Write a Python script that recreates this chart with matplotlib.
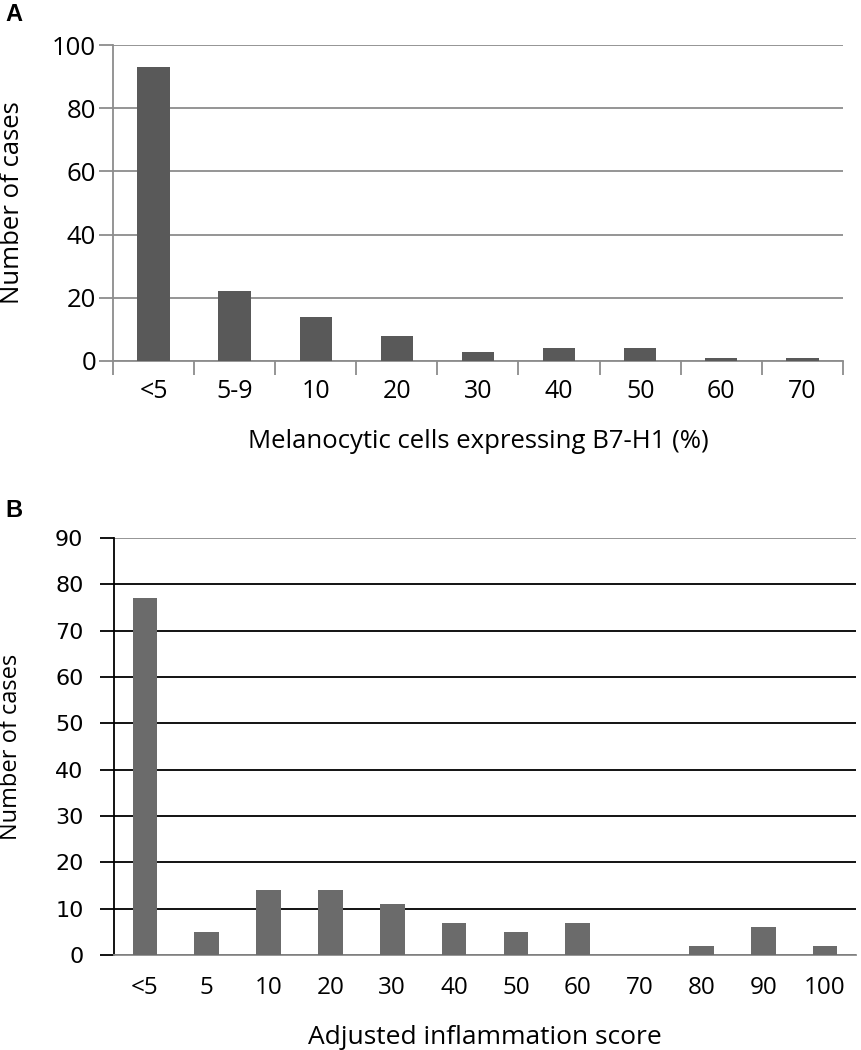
import numpy as np
import matplotlib.pyplot as plt

plt.rcParams['font.family'] = ['Open Sans', 'DejaVu Sans']

# panel A
cats_a = ['<5', '5-9', '10', '20', '30', '40', '50', '60', '70']
counts_a = [93, 22, 14, 8, 3, 4, 4, 1, 1]
yticks_a = [0, 20, 40, 60, 80, 100]

# panel B
cats_b = ['<5', '5', '10', '20', '30', '40', '50', '60', '70', '80', '90', '100']
counts_b = [77, 5, 14, 14, 11, 7, 5, 7, 0, 2, 6, 2]
yticks_b = [0, 10, 20, 30, 40, 50, 60, 70, 80, 90]

GRAY = '#8c8c8c'


def main():
    fig = plt.figure(figsize=(8.61, 10.5), dpi=100)

    # ---- A ----
    ax = fig.add_axes([0.1312, 0.6562, 0.979 - 0.1312, 0.9571 - 0.6562])
    x = np.arange(len(cats_a))
    ax.bar(x, counts_a, width=0.4, color='#595959', zorder=3)
    ax.set_xlim(-0.5, len(cats_a) - 0.5)
    ax.set_ylim(0, 100)
    ax.set_yticks(yticks_a)
    ax.yaxis.grid(True, color=GRAY, lw=1.3, zorder=0)
    for s in ['top', 'right']:
        ax.spines[s].set_visible(False)
    for s in ['left', 'bottom']:
        ax.spines[s].set_color(GRAY)
        ax.spines[s].set_linewidth(1.3)
    ax.set_xticks(np.arange(len(cats_a) + 1) - 0.5)
    ax.set_xticklabels([])
    ax.set_xticks(x, minor=True)
    ax.set_xticklabels(cats_a, minor=True)
    ax.tick_params(axis='x', which='major', length=10, direction='out',
                   color=GRAY, width=1.3)
    ax.tick_params(axis='x', which='minor', length=0, labelsize=18, pad=13)
    ax.tick_params(axis='y', length=10, color=GRAY, width=1.3,
                   labelsize=18.5, pad=2)
    ax.set_ylabel('Number of cases', fontsize=18.5)
    ax.yaxis.set_label_coords(-0.12, 0.5)
    ax.set_xlabel('Melanocytic cells expressing B7-H1 (%)', fontsize=18.5,
                  labelpad=18)

    # ---- B ----
    bx = fig.add_axes([0.1324, 0.0905, 0.9942 - 0.1324, 0.4876 - 0.0905])
    xb = np.arange(len(cats_b))
    bx.bar(xb, counts_b, width=0.4, color='#6b6b6b', zorder=3)
    bx.set_xlim(-0.5, len(cats_b) - 0.5)
    bx.set_ylim(0, 90)
    bx.set_yticks(yticks_b)
    bx.set_yticklabels([str(v) for v in yticks_b], family='DejaVu Sans')
    bx.yaxis.grid(True, color='black', lw=1.3, zorder=0)
    bx.get_ygridlines()[-1].set_color(GRAY)
    for s in ['top', 'right']:
        bx.spines[s].set_visible(False)
    bx.spines['left'].set_linewidth(1.3)
    bx.spines['bottom'].set_color(GRAY)
    bx.spines['bottom'].set_linewidth(1.3)
    bx.set_xticks(xb)
    bx.set_xticklabels(cats_b)
    bx.tick_params(axis='x', length=0, labelsize=17.5, pad=15)
    bx.tick_params(axis='y', length=10, width=1.3, labelsize=16, pad=12)
    bx.set_ylabel('Number of cases', fontsize=17)
    bx.yaxis.set_label_coords(-0.123, 0.5)
    bx.set_xlabel('Adjusted inflammation score', fontsize=19, labelpad=18)

    fig.text(0.006, 0.986, 'A', fontsize=17, fontweight='bold',
             family='Liberation Sans', va='center')
    fig.text(0.006, 0.514, 'B', fontsize=17, fontweight='bold',
             family='Liberation Sans', va='center')

    fig.savefig('out.png', dpi=100)
    plt.close()


if __name__ == '__main__':
    main()
